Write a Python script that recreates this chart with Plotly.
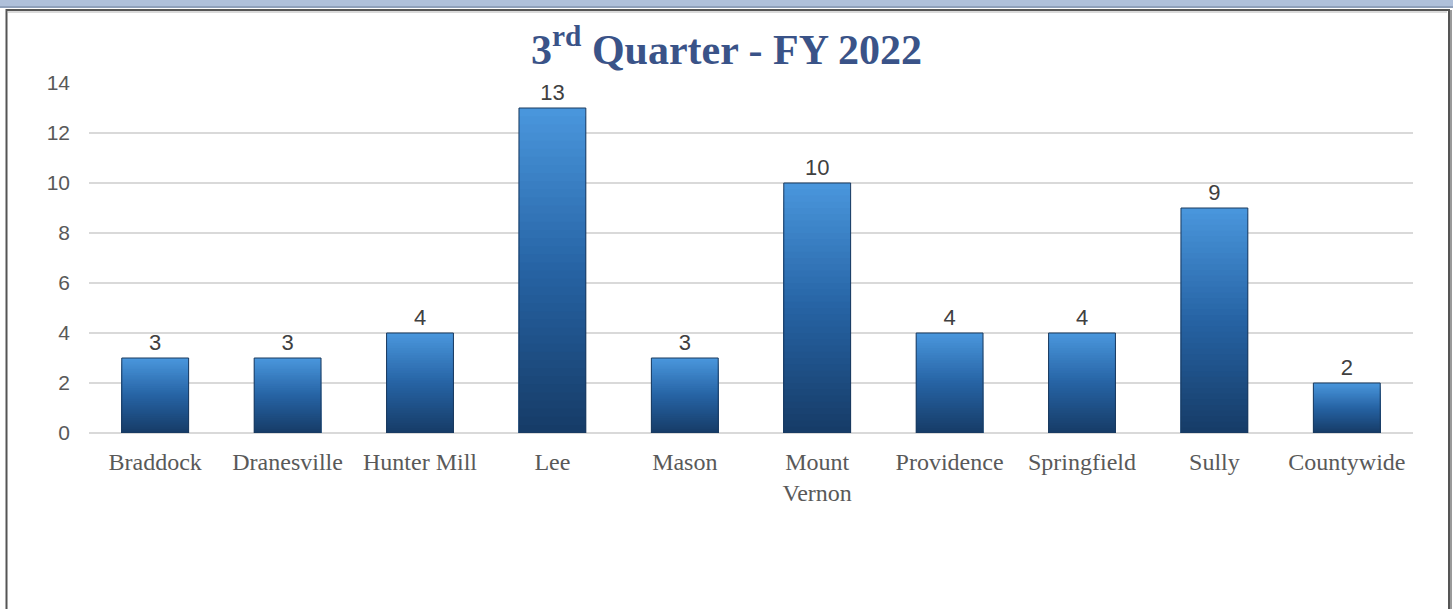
import plotly.graph_objects as go

categories = ["Braddock", "Dranesville", "Hunter Mill", "Lee", "Mason",
              "Mount<br>Vernon", "Providence", "Springfield", "Sully", "Countywide"]
values = [3, 3, 4, 13, 3, 10, 4, 4, 9, 2]
y_ticks = [0, 2, 4, 6, 8, 10, 12, 14]

W, H = 1453, 609
L, R, T, B = 89, 40, 83, 176
PW, PH = W - L - R, H - T - B


def px_x(px):
    return (px - L) / PW


def px_y(py):
    return (H - B - py) / PH


def lerp(c1, c2, t):
    return tuple(int(round(a + (b - a) * t)) for a, b in zip(c1, c2))


bottom_c = (0x16, 0x3B, 0x66)
mid_c = (0x26, 0x63, 0xA4)
top_c = (0x4A, 0x97, 0xDD)

N = 40
fig = go.Figure()
# layered bars of decreasing height produce a vertical gradient inside each bar
for k in range(N):
    f = (N - k) / N
    t = f - 0.5 / N
    if t < 0.5:
        c = lerp(bottom_c, mid_c, t / 0.5)
    else:
        c = lerp(mid_c, top_c, (t - 0.5) / 0.5)
    fig.add_trace(go.Bar(
        x=categories,
        y=[v * f for v in values],
        marker=dict(color="rgb(%d,%d,%d)" % c, line=dict(width=0)),
        width=0.505,
        showlegend=False,
        hoverinfo="skip",
    ))

fig.add_trace(go.Bar(
    x=categories,
    y=values,
    marker=dict(color="rgba(0,0,0,0)", line=dict(color="#1B3A5E", width=1)),
    width=0.505,
    text=[str(v) for v in values],
    textposition="outside",
    textfont=dict(family="Liberation Sans, Arial", size=22, color="#404040"),
    cliponaxis=False,
    showlegend=False,
))

shapes = [
    # top band
    dict(type="rect", xref="paper", yref="paper",
         x0=px_x(0), x1=px_x(W), y0=px_y(8), y1=px_y(0),
         fillcolor="#AFC0DA", line=dict(width=0), layer="below"),
    dict(type="line", xref="paper", yref="paper",
         x0=px_x(0), x1=px_x(W), y0=px_y(7), y1=px_y(7),
         line=dict(color="#8FA0BA", width=2), layer="below"),
    # frame
    dict(type="rect", xref="paper", yref="paper",
         x0=px_x(6.5), x1=px_x(1449), y0=px_y(H + 10), y1=px_y(10),
         fillcolor="rgba(0,0,0,0)", line=dict(color="#555555", width=2), layer="below"),
    dict(type="line", xref="paper", yref="paper",
         x0=px_x(8), x1=px_x(1447), y0=px_y(12), y1=px_y(12),
         line=dict(color="#DADADA", width=2), layer="below"),
    dict(type="line", xref="paper", yref="paper",
         x0=px_x(1451), x1=px_x(1451), y0=px_y(H + 10), y1=px_y(10),
         line=dict(color="#9A9A9A", width=2), layer="below"),
]

fig.update_layout(
    width=W, height=H,
    margin=dict(l=L, r=R, t=T, b=B, autoexpand=False),
    paper_bgcolor="white",
    plot_bgcolor="white",
    barmode="overlay",
    showlegend=False,
    title=dict(
        text="3<sup>rd</sup> Quarter - FY 2022",
        font=dict(family="Liberation Serif, Times New Roman", size=42, color="#3A5388", weight="bold"),
        x=0.5, xref="container", xanchor="center",
        y=1 - 49 / H, yref="container", yanchor="middle",
    ),
    xaxis=dict(
        showgrid=False, showline=False, zeroline=False, ticks="",
        tickfont=dict(family="Liberation Serif, Times New Roman", size=24, color="#595959"),
        ticklabelstandoff=12,
        fixedrange=True,
    ),
    yaxis=dict(
        range=[0, 14], tickvals=y_ticks, showgrid=True, gridcolor="#D9D9D9", gridwidth=2,
        zeroline=True, zerolinecolor="#D9D9D9", zerolinewidth=2,
        showline=False, ticks="",
        tickfont=dict(family="Liberation Sans, Arial", size=21, color="#595959"),
        ticklabelstandoff=18,
        fixedrange=True,
    ),
    shapes=shapes,
)

fig.write_html(
    "out.html",
    config={"displayModeBar": False},
    post_script="document.body.style.margin='0';document.body.style.overflow='hidden';",
)
